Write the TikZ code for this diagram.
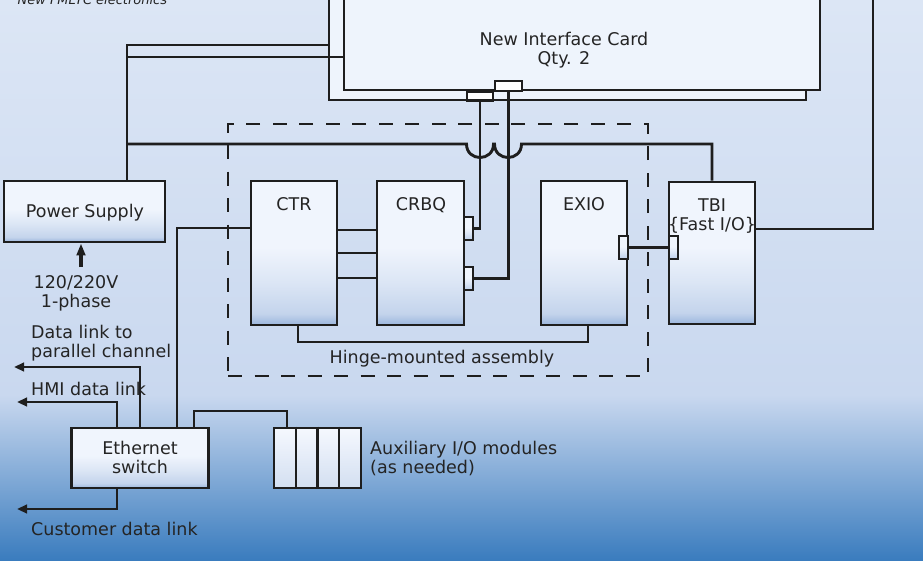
\documentclass[tikz,border=0pt]{standalone}
\usepackage{fontspec}
\setmainfont{DejaVu Sans}
\usetikzlibrary{arrows.meta}
\definecolor{ink}{HTML}{1E1E1E}
\definecolor{txtc}{HTML}{242424}
\definecolor{bgtop}{HTML}{DCE6F5}
\definecolor{bgmid}{HTML}{C9D8EF}
\definecolor{bgbot}{HTML}{3A7CBE}
\definecolor{cardfill}{HTML}{EEF4FC}
\definecolor{ShBot}{HTML}{9BB6DD}
\definecolor{ShLow}{HTML}{C4D4EC}
\definecolor{ShMid}{HTML}{DCE6F5}
\definecolor{ShTop}{HTML}{F0F5FD}
\definecolor{auxtop}{HTML}{F5F8FE}
\definecolor{auxbot}{HTML}{D3DFF1}
\pgfdeclareverticalshading{modshade}{100bp}{color(0bp)=(ShBot); color(25bp)=(ShBot); color(29bp)=(ShLow); color(40bp)=(ShMid); color(52bp)=(ShTop); color(100bp)=(ShTop)}
\tikzset{
  ln/.style={draw=ink, line width=2.9pt},
  arr/.style={-{Triangle[length=10pt,width=8.5pt]}},
  modbox/.style={draw=ink, line width=2.9pt, shade, shading=modshade, inner sep=0pt},
  tabbox/.style={draw=ink, line width=2.5pt, shade, shading=modshade, inner sep=0pt, minimum width=9pt, minimum height=23pt},
  card/.style={draw=ink, line width=2.9pt, fill=cardfill, inner sep=0pt},
  conbox/.style={draw=ink, line width=2.7pt, fill=white, inner sep=0pt},
  auxbox/.style={draw=ink, line width=2.8pt, top color=auxtop, bottom color=auxbot, inner sep=0pt},
  dashbox/.style={draw=ink, line width=2.9pt, dash pattern=on 14pt off 12.5pt, inner sep=0pt},
}
\begin{document}
\begin{tikzpicture}[x=1pt,y=-1pt, font=\fontsize{17.5pt}{19pt}\selectfont, text=txtc]
\useasboundingbox (0,0) rectangle (923,560);
\clip (0,0) rectangle (923,560);
\shade[top color=bgtop,bottom color=bgmid] (0,0) rectangle (923,396);
\shade[top color=bgmid,bottom color=bgbot] (0,395) rectangle (923,560);

\node[anchor=base west, font=\fontsize{13pt}{15pt}\selectfont\itshape] (title) at (14,4) {New FMLTC electronics};

% hinge-mounted frame
\node[dashbox, minimum width=420pt, minimum height=252pt] (hinge) at (438,250) {};
\node[anchor=base] (hingetxt) at (442,363) {Hinge-mounted assembly};

% interface cards
\node[card, minimum width=477pt, minimum height=130pt] (cardback) at (567.5,35) {};
\node[card, minimum width=476pt, minimum height=120pt] (cardfront) at (582,30) {};
\node[anchor=north, align=center, inner sep=0pt] (cardtxt) at (564,31.7) {New Interface Card\\Qty. 2};
\node[conbox, minimum width=26pt, minimum height=9pt] (cb1) at (480,96) {};
\node[conbox, minimum width=27pt, minimum height=10pt] (cb2) at (508.5,86) {};

% modules
\node[modbox, minimum width=161pt, minimum height=61pt] (ps) at (84.5,211.5) {};
\node[anchor=base] (pstxt) at (85,217) {Power Supply};
\node[modbox, minimum width=86pt, minimum height=144pt] (ctr) at (294,253) {};
\node[anchor=base] (ctrtxt) at (294,210) {CTR};
\node[modbox, minimum width=87pt, minimum height=144pt] (crbq) at (420.5,253) {};
\node[anchor=base] (crbqtxt) at (421,210) {CRBQ};
\node[modbox, minimum width=86pt, minimum height=144pt] (exio) at (584,253) {};
\node[anchor=base] (exiotxt) at (584,210) {EXIO};
\node[modbox, minimum width=86pt, minimum height=142pt] (tbi) at (712,253) {};
\node[anchor=north, align=center, inner sep=0pt] (tbitxt) at (712,198.2) {TBI\\\{Fast I/O\}};

\node[tabbox] (tab1) at (468.5,228.5) {};
\node[tabbox] (tab2) at (468.5,278.5) {};
\node[tabbox] (tabx) at (623.5,247.5) {};
\node[tabbox] (tabt) at (673.5,247.5) {};

\node[modbox, minimum width=137.5pt, minimum height=60pt] (eth) at (140,458) {};
\node[anchor=north, align=center, inner sep=0pt] (ethtxt) at (140,440.7) {Ethernet\\switch};

\node[auxbox, minimum width=87pt, minimum height=60pt] (aux) at (317.5,458) {};
\foreach \xx in {296,317.5,339} \draw[ink, line width=2.7pt] (\xx,0 |- aux.north) -- (\xx,0 |- aux.south);
\node[anchor=north west, align=left, inner sep=0pt] (auxtxt) at (370,440.7) {Auxiliary I/O modules\\(as needed)};

% labels
\node[anchor=north, align=center, inner sep=0pt] (actxt) at (76,275.2) {120/220V\\1-phase};
\node[anchor=north west, align=left, inner sep=0pt] (dltxt) at (31,324.7) {Data link to\\parallel channel};
\node[anchor=base west, inner sep=0pt] (hmitxt) at (31,395) {HMI data link};
\node[anchor=base west, inner sep=0pt] (custtxt) at (31,535) {Customer data link};

% connectors
\draw[ln] (127,0 |- ps.north) -- (127,45) -- (cardback.west |- 0,45);
\draw[ln] (127,57) -- (cardfront.west |- 0,57);
\draw[ln] (127,144) -- (466.5,144) .. controls (466.5,162) and (493.5,162) .. (493.5,144) -- (494.5,144) .. controls (494.5,162) and (521.5,162) .. (521.5,144) -- (tbi.north |- 0,144) -- (tbi.north);
\draw[ln] (tab1.east) -- (cb1.south |- tab1.east) -- (cb1.south);
\draw[ln] (tab2.east) -- (cb2.south |- tab2.east) -- (cb2.south);
\foreach \yy in {230,253,278} \draw[ln] (ctr.east |- 0,\yy) -- (crbq.west |- 0,\yy);
\draw[ln] (tabx.east) -- (tabt.west);
\draw[ln] (tbi.east |- 0,229) -- (873,229) -- (873,-10);
\draw[ln] (298,0 |- ctr.south) -- (298,342) -- (588,342) -- (588,0 |- exio.south);
\draw[ln] (ctr.west |- 0,228) -- (177,228) -- (177,0 |- eth.north);
\draw[ln] (194,0 |- eth.north) -- (194,411) -- (287,411) -- (287,0 |- aux.north);

\coordinate (dlend) at (14,367);
\coordinate (hmiend) at (17,402);
\coordinate (custend) at (17,509);
\draw[ln, arr] (140,0 |- eth.north) -- (140,367) -- (dlend);
\draw[ln, arr] (117,0 |- eth.north) -- (117,402) -- (hmiend);
\draw[ln, arr] (117,0 |- eth.south) -- (117,509) -- (custend);

\coordinate (acin) at (81,267);
\draw[draw=ink, line width=3.4pt, -{Triangle[length=12pt,width=8.5pt]}] (acin) -- (81,0 |- ps.south);
\end{tikzpicture}
\end{document}
